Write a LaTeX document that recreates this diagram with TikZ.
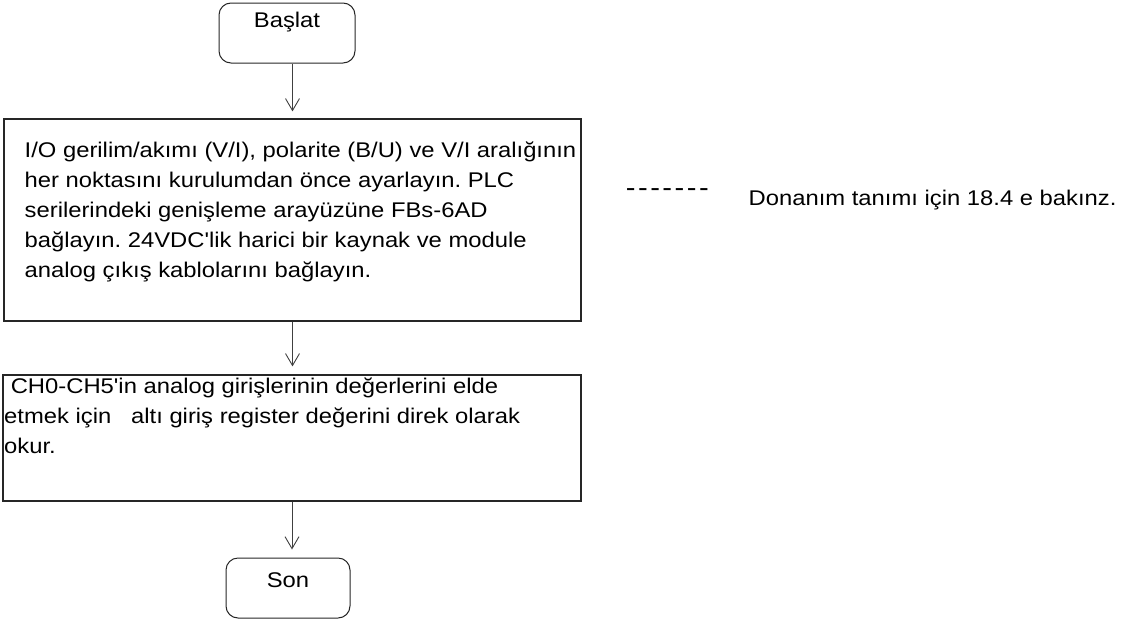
\documentclass[tikz,border=0pt]{standalone}
\usepackage{fontspec}
\setmainfont{Liberation Sans}[FakeStretch=1.12, Ligatures=TeXOff]
\usetikzlibrary{arrows.meta}
\frenchspacing

\tikzset{
  termbox/.style={draw=black!85, rounded corners=12pt, line width=1pt, inner sep=0pt},
  procbox/.style={draw=black!85, line width=1.2pt, inner sep=0pt},
  boxtext/.style={align=left, inner sep=0pt, anchor=north west},
  flow/.style={draw=black!75, line width=0.9pt, -{Straight Barb[length=12pt,width=14pt]}}
}

\begin{document}
\begin{tikzpicture}[x=1pt,y=-1pt,font=\fontsize{21.25}{30}\selectfont]
    \useasboundingbox (0,0) rectangle (1126,621);
    % start and end
    \node[termbox, minimum width=136pt, text height=24.5pt, text depth=35.5pt] (start) at (287,33) {Başlat};
    \node[termbox, minimum width=124pt, text height=29.5pt, text depth=30.5pt] (stop) at (288,588) {Son};
    % process boxes
    \node[procbox, minimum width=577pt, minimum height=202pt] (setup) at (292.5,220) {};
    \node[procbox, minimum width=578pt, minimum height=126pt] (read) at (292,438) {};
    \node[boxtext] (setuptext) at (24.5,141.5) {I/O gerilim/akımı (V/I), polarite (B/U) ve V/I aralığının\\
      her noktasını kurulumdan önce ayarlayın. PLC\\
      serilerindeki genişleme arayüzüne FBs-6AD\\
      bağlayın. 24VDC'lik harici bir kaynak ve module\\
      analog çıkış kablolarını bağlayın.};
    \node[boxtext] (readtext) at (4,377.5) {\hspace*{6.6pt}CH0-CH5'in analog girişlerinin değerlerini elde\\
      etmek için\ \ \ altı giriş register değerini direk olarak\\
      okur.};
    % note at the side
    \node[anchor=base west, inner sep=0pt, font=\fontsize{26}{30}\selectfont] (sep) at (625.7,196)
      {-\kern2.5pt-\kern2.5pt-\kern2.5pt-\kern2.5pt-\kern2.5pt-\kern2.5pt-};
    \node[anchor=base west, inner sep=0pt] (note) at (748.5,205) {Donanım tanımı için 18.4 e bakınz.};
    % arrows
    \draw[flow, shorten >=7pt] (start.south -| setup.north) -- (setup.north);
    \draw[flow, shorten >=8pt] (setup.south) -- (setup.south |- read.north);
    \draw[flow, shorten >=8pt] (read.south) -- (read.south |- stop.north);
\end{tikzpicture}
\end{document}
